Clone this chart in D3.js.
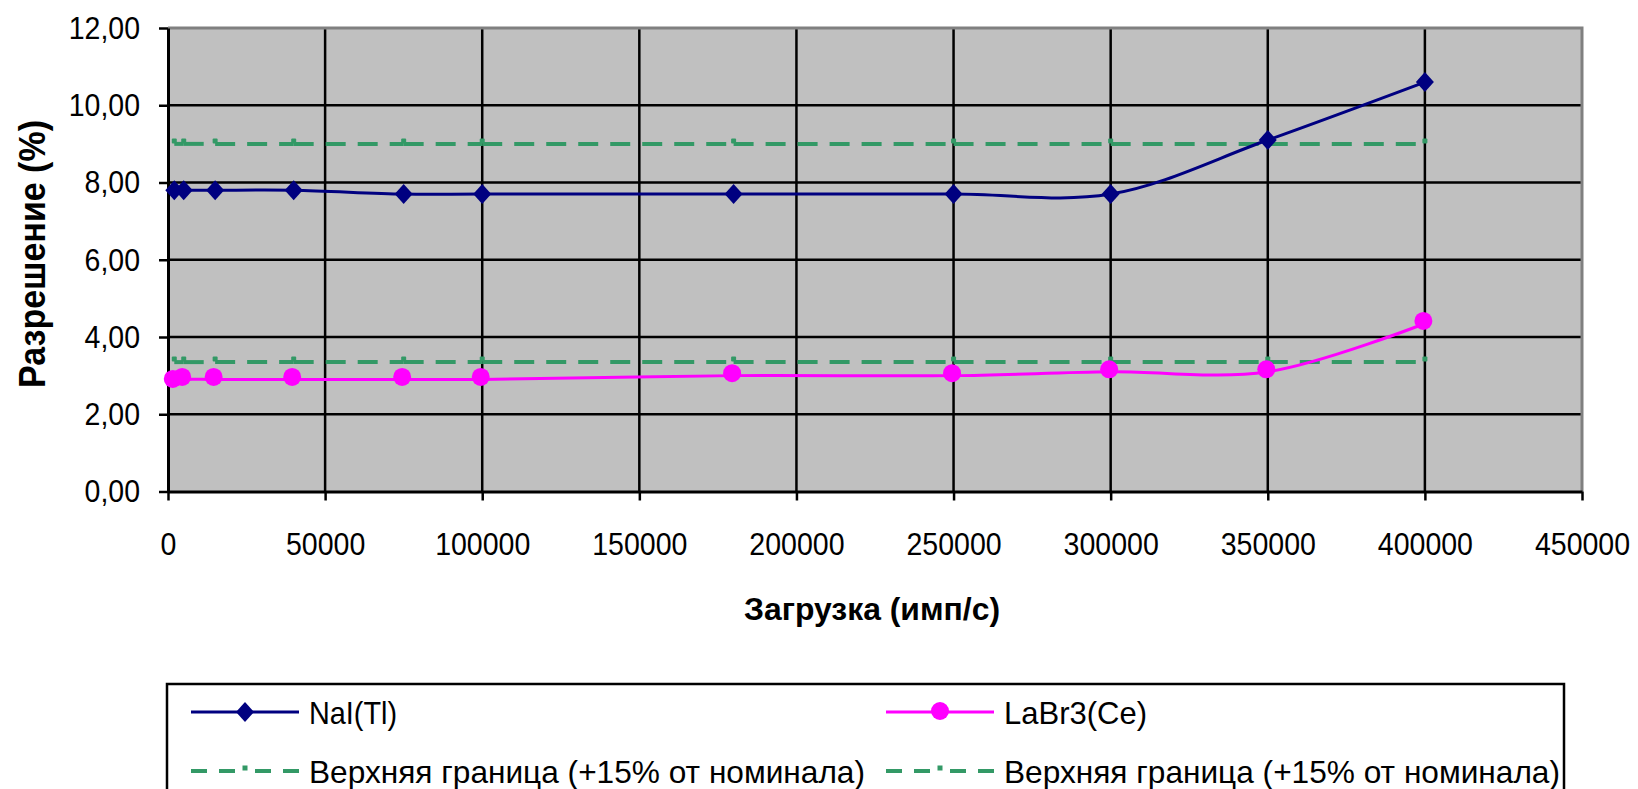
<!DOCTYPE html>
<html>
<head>
<meta charset="utf-8">
<script src="https://cdnjs.cloudflare.com/ajax/libs/d3/7.8.5/d3.min.js"></script>
<style>
  html, body { margin: 0; padding: 0; background: #fff; }
  svg { display: block; font-family: "Liberation Sans", Arial, sans-serif; }
</style>
</head>
<body>
<div class="grafico"></div>
<script>
/* Datos */
const loads = [2000, 5000, 15000, 40000, 75000, 100000, 180000, 250000, 300000, 350000, 400000];
const naiValues = [7.8, 7.8, 7.8, 7.8, 7.7, 7.7, 7.7, 7.7, 7.7, 9.1, 10.6];
const labrValues = [2.85, 2.9, 2.9, 2.9, 2.9, 2.9, 3.0, 3.0, 3.1, 3.1, 4.35];
const naiLimit = [9.0, 9.0, 9.0, 9.0, 9.0, 9.0, 9.0, 9.0, 9.0, 9.0, 9.0];
const labrLimit = [3.35, 3.35, 3.35, 3.35, 3.35, 3.35, 3.35, 3.35, 3.35, 3.35, 3.35];
const xTicks = [0, 50000, 100000, 150000, 200000, 250000, 300000, 350000, 400000, 450000];
const yTicks = [0, 2, 4, 6, 8, 10, 12];
const seriesNames = ['NaI(Tl)', 'LaBr3(Ce)', 'Верхняя граница (+15% от номинала)', 'Верхняя граница (+15% от номинала)'];

const w = 1638;
const h = 789;
const plotLeft = 168, plotRight = 1582, plotTop = 28, plotBottom = 491.5;
const green = '#339966';
const fontFam = '"Liberation Sans", Arial, sans-serif';

const svg = d3.select('.grafico')
  .append('svg')
  .attr('width', w)
  .attr('height', h);

/*Texto estrecho como en Excel*/
const condense = (sel, factor) => {
  sel.each(function () {
    const len = this.getComputedTextLength();
    d3.select(this).attr('textLength', len * factor).attr('lengthAdjust', 'spacingAndGlyphs');
  });
};

/*Escalas*/
const xScale = d3.scaleLinear().domain([0, 450000]).range([plotLeft, plotRight]);
const yScale = d3.scaleLinear().domain([0, 12]).range([plotBottom, plotTop]);

/*Fondo del área de trazado*/
svg.append('rect')
  .attr('x', plotLeft).attr('y', plotTop)
  .attr('width', plotRight - plotLeft).attr('height', plotBottom - plotTop)
  .attr('fill', '#c0c0c0');

/*Cuadrícula*/
svg.append('g')
  .selectAll('line')
  .data(yTicks.slice(1, -1))
  .enter().append('line')
  .attr('x1', plotLeft).attr('x2', plotRight)
  .attr('y1', d => yScale(d)).attr('y2', d => yScale(d))
  .attr('stroke', '#000').attr('stroke-width', 2.5);

svg.append('g')
  .selectAll('line')
  .data(xTicks.slice(1, -1))
  .enter().append('line')
  .attr('x1', d => xScale(d)).attr('x2', d => xScale(d))
  .attr('y1', plotTop).attr('y2', plotBottom)
  .attr('stroke', '#000').attr('stroke-width', 2.5);

/*Borde superior y derecho*/
svg.append('path')
  .attr('d', `M${plotLeft},${plotTop}H${plotRight}V${plotBottom}`)
  .attr('fill', 'none')
  .attr('stroke', '#808080')
  .attr('stroke-width', 3);

/*Ejes*/
const fmtY = d => d3.format('.2f')(d).replace('.', ',');

svg.append('g')
  .attr('transform', `translate(${plotLeft},0)`)
  .call(d3.axisLeft(yScale).tickValues(yTicks).tickFormat(fmtY).tickSizeInner(9).tickSizeOuter(0).tickPadding(19))
  .call(g => g.select('.domain').attr('stroke-width', 3))
  .call(g => g.selectAll('.tick line').attr('stroke-width', 2.5))
  .call(g => g.selectAll('text').attr('font-size', 32).attr('fill', '#000').attr('font-family', fontFam).call(condense, 0.89));

svg.append('g')
  .attr('transform', `translate(0,${plotBottom})`)
  .call(d3.axisBottom(xScale).tickValues(xTicks).tickFormat(d3.format('d')).tickSizeInner(9).tickSizeOuter(0).tickPadding(32))
  .call(g => g.select('.domain').attr('stroke-width', 3))
  .call(g => g.selectAll('.tick line').attr('stroke-width', 2.5))
  .call(g => g.selectAll('text').attr('font-size', 31).attr('fill', '#000').attr('font-family', fontFam).call(condense, 0.92));

/*Títulos de ejes*/
svg.append('text')
  .attr('transform', 'translate(45,254) rotate(-90)')
  .attr('text-anchor', 'middle')
  .attr('font-weight', 'bold')
  .attr('font-size', 36)
  .attr('textLength', 268)
  .attr('lengthAdjust', 'spacingAndGlyphs')
  .text('Разрешение (%)');

svg.append('text')
  .attr('x', 872)
  .attr('y', 620)
  .attr('text-anchor', 'middle')
  .attr('font-weight', 'bold')
  .attr('font-size', 32)
  .attr('textLength', 256)
  .attr('lengthAdjust', 'spacingAndGlyphs')
  .text('Загрузка (имп/с)');

/*Líneas de límite: Excel reinicia el guion en cada segmento*/
const drawDashed = (values) => {
  const pts = loads.map((x, i) => [xScale(x), yScale(values[i])]);
  const g = svg.append('g');
  g.selectAll('line')
    .data(d3.pairs(pts))
    .enter().append('line')
    .attr('x1', d => d[0][0]).attr('y1', d => d[0][1])
    .attr('x2', d => d[1][0]).attr('y2', d => d[1][1])
    .attr('stroke', green)
    .attr('stroke-width', 4)
    .attr('stroke-dasharray', '20,12');
  g.selectAll('rect')
    .data(pts)
    .enter().append('rect')
    .attr('x', d => d[0] - 2.5).attr('y', d => d[1] - 5.5)
    .attr('width', 5).attr('height', 5)
    .attr('rx', 1)
    .attr('fill', green);
};
drawDashed(naiLimit);
drawDashed(labrLimit);

/*Series suavizadas*/
const line = d3.line()
  .x((d, i) => xScale(loads[i]))
  .y(d => yScale(d))
  .curve(d3.curveCatmullRom);

svg.append('path')
  .attr('d', line(naiValues))
  .attr('fill', 'none')
  .attr('stroke', '#000080')
  .attr('stroke-width', 3);

svg.append('path')
  .attr('d', line(labrValues))
  .attr('fill', 'none')
  .attr('stroke', '#ff00ff')
  .attr('stroke-width', 3);

const diamond = 'M0,-10L9,0L0,10L-9,0Z';

svg.append('g')
  .selectAll('path')
  .data(naiValues)
  .enter().append('path')
  .attr('transform', (d, i) => `translate(${xScale(loads[i])},${yScale(d)})`)
  .attr('d', diamond)
  .attr('fill', '#000080');

svg.append('g')
  .selectAll('circle')
  .data(labrValues)
  .enter().append('circle')
  .attr('cx', (d, i) => xScale(loads[i]) - 1.5)
  .attr('cy', d => yScale(d) - 2.5)
  .attr('r', 9)
  .attr('fill', '#ff00ff');

/*Leyenda*/
const legend = svg.append('g');
legend.append('rect')
  .attr('x', 167).attr('y', 684)
  .attr('width', 1397).attr('height', 130)
  .attr('fill', '#fff')
  .attr('stroke', '#000')
  .attr('stroke-width', 2.5);

const legendItems = [
  { name: seriesNames[0], x: 191, y: 712, type: 'nai', len: 88 },
  { name: seriesNames[1], x: 886, y: 712, type: 'labr', len: 143 },
  { name: seriesNames[2], x: 191, y: 771, type: 'limit', len: 556 },
  { name: seriesNames[3], x: 886, y: 771, type: 'limit', len: 556 }
];

legendItems.forEach(item => {
  const g = legend.append('g').attr('transform', `translate(${item.x},${item.y})`);
  const cx = 54;
  if (item.type === 'nai') {
    g.append('line').attr('x1', 0).attr('x2', 108).attr('stroke', '#000080').attr('stroke-width', 3);
    g.append('path').attr('d', diamond).attr('transform', `translate(${cx},0)`).attr('fill', '#000080');
  } else if (item.type === 'labr') {
    g.append('line').attr('x1', 0).attr('x2', 108).attr('stroke', '#ff00ff').attr('stroke-width', 3);
    g.append('circle').attr('cx', cx).attr('cy', -1).attr('r', 9).attr('fill', '#ff00ff');
  } else {
    g.append('line').attr('x1', 0).attr('x2', 52).attr('stroke', green).attr('stroke-width', 4).attr('stroke-dasharray', '16,12');
    g.append('line').attr('x1', 108).attr('x2', 56).attr('stroke', green).attr('stroke-width', 4).attr('stroke-dasharray', '16,12');
    g.append('rect').attr('x', cx - 2.5).attr('y', -5.5).attr('width', 5).attr('height', 5).attr('fill', green);
  }
  g.append('text')
    .attr('x', 118)
    .attr('y', 0)
    .attr('dy', '0.36em')
    .attr('font-size', 32)
    .attr('textLength', item.len)
    .attr('lengthAdjust', 'spacingAndGlyphs')
    .text(item.name);
});
</script>
</body>
</html>
